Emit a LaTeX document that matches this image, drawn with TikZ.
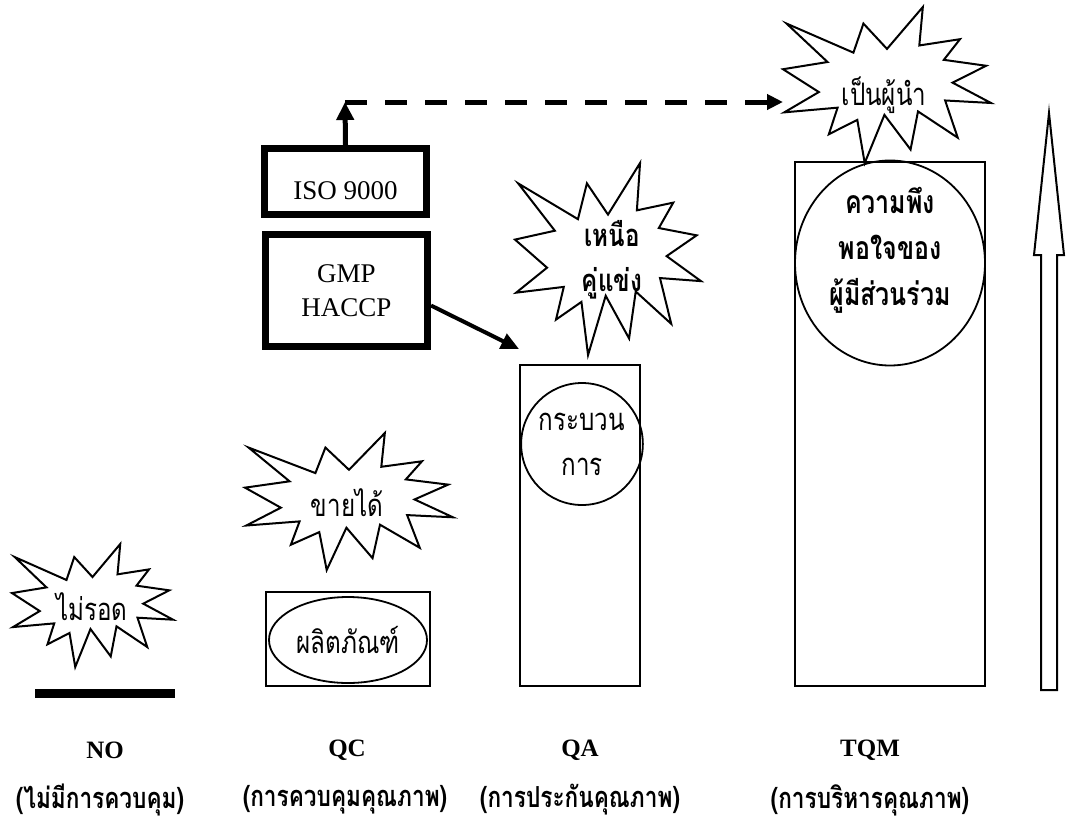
\documentclass[tikz,border=0pt]{standalone}
\usepackage{fontspec}
\setmainfont{Liberation Serif}
\newfontfamily\thaifont[Script=Thai,FakeStretch=0.78]{Loma}
\usetikzlibrary{arrows.meta,shapes.geometric}

% explosion outline in the box with top left corner (#1,#2), width #3, height #4
\newcommand{\explosion}[4]{%
  \begin{scope}[shift={(#1,#2)},xscale=#3/216,yscale=#4/216]
    \draw[burst] (108,58) -- (145.22,0) -- (141.55,53.25) -- (183.8,44.57) -- (167.02,73.15)
      -- (210.97,81.37) -- (176.07,104.75) -- (216,132.9) -- (168.37,129.42) -- (181.45,180.95)
      -- (140.2,144.57) -- (132.47,197.37) -- (105.32,149.35) -- (84.85,216) -- (77.15,156.27)
      -- (47.62,176.17) -- (56.67,139.37) -- (1.35,145.87) -- (37.22,117.75) -- (0,86.15)
      -- (46.27,76.17) -- (3.7,22.95) -- (73.12,63.2) -- (83.52,22.95) -- cycle;
  \end{scope}}

\begin{document}
\begin{tikzpicture}[x=1pt,y=-1pt,
    every node/.style={align=center,font=\fontsize{27}{34}\selectfont},
    thaitext/.style={font=\thaifont\fontsize{31}{45}\selectfont},
    burst/.style={draw=black,line width=2pt,line join=miter},
    stage/.style={draw=black,line width=1.8pt,inner sep=0pt},
    stdbox/.style={draw=black,line width=7pt,inner sep=0pt},
    caption/.style={font=\bfseries\fontsize{25}{30}\selectfont},
    thaicaption/.style={font=\thaifont\bfseries\fontsize{29}{30}\selectfont}]
    \useasboundingbox (0,0) rectangle (1077,823);

    % NO
    \node[fill=black,minimum width=140pt,minimum height=9pt,inner sep=0pt] (nobar) at (105,693) {};
    \explosion{12}{544}{161}{123}
    \node[thaitext] (nosurvive) at (92,607) {ไม่รอด};

    % QC
    \node[stage,minimum width=164pt,minimum height=94pt] (qc) at (348,639) {};
    \node[ellipse,draw=black,line width=1.8pt,minimum width=158pt,minimum height=86pt,inner sep=0pt,thaitext] (product) at (348,640) {ผลิตภัณฑ์};
    \explosion{245}{433}{208}{137}
    \node[thaitext] (sell) at (347,503) {ขายได้};

    % standards
    \node[stdbox,minimum width=162pt,minimum height=66pt,text height=35pt,text depth=0pt] (iso) at (345.5,181.5) {ISO 9000};
    \node[stdbox,minimum width=162pt,minimum height=112pt] (gmp) at (346.5,290.5) {GMP\\HACCP};

    % QA
    \node[stage,minimum width=120pt,minimum height=321pt] (qa) at (580,525.5) {};
    \node[ellipse,draw=black,line width=1.8pt,minimum width=108pt,minimum height=122pt,inner sep=0pt,thaitext] (process) at (582,444) {กระบวน\\การ};
    \explosion{515}{163}{186}{192}
    \node[font=\thaifont\bfseries\fontsize{31}{45}\selectfont] (beat) at (612,260) {เหนือ\\คู่แข่ง};

    % TQM
    \node[stage,minimum width=190pt,minimum height=524pt] (tqm) at (890,424) {};
    \node[ellipse,draw=black,line width=1.8pt,minimum width=190pt,minimum height=205pt,inner sep=0pt] (satisfy) at (890,263) {};
    \node[font=\thaifont\bfseries\fontsize{32}{46}\selectfont] (satisfytext) at (890,250) {ความพึง\\พอใจของ\\ผู้มีส่วนร่วม};
    \explosion{783}{7}{208}{156}
    \node[thaitext] (lead) at (884,95) {เป็นผู้นำ};

    % level arrow
    \draw[line width=2pt,line join=miter] (1041,690) -- (1041,255) -- (1034,255) -- (1049,113)
        -- (1064,255) -- (1057,255) -- (1057,690) -- cycle;

    % connectors
    \coordinate (bend) at (345,102);
    \coordinate (leadin) at (783,102);
    \draw[line width=5pt,-{Triangle[length=18pt,width=17pt]}] (iso.north) -- (bend);
    \draw[line width=5pt,dash pattern=on 22pt off 18pt,-{Triangle[length=16pt,width=15pt]}] (bend) -- (leadin);
    \draw[line width=4pt,-{Triangle[length=18pt,width=16pt]}] ([yshift=-15pt]gmp.east) -- ([yshift=15pt]qa.north west);

    % captions
    \node[caption] (no) at (105,750) {NO};
    \node[caption] (qclabel) at (347,750) {QC};
    \node[caption] (qalabel) at (580,750) {QA};
    \node[caption] (tqmlabel) at (870,750) {TQM};
    \node[thaicaption] (nothai) at (100,800) {(ไม่มีการควบคุม)};
    \node[thaicaption] (qcthai) at (345,800) {(การควบคุมคุณภาพ)};
    \node[thaicaption] (qathai) at (580,800) {(การประกันคุณภาพ)};
    \node[thaicaption] (tqmthai) at (870,800) {(การบริหารคุณภาพ)};
\end{tikzpicture}
\end{document}
